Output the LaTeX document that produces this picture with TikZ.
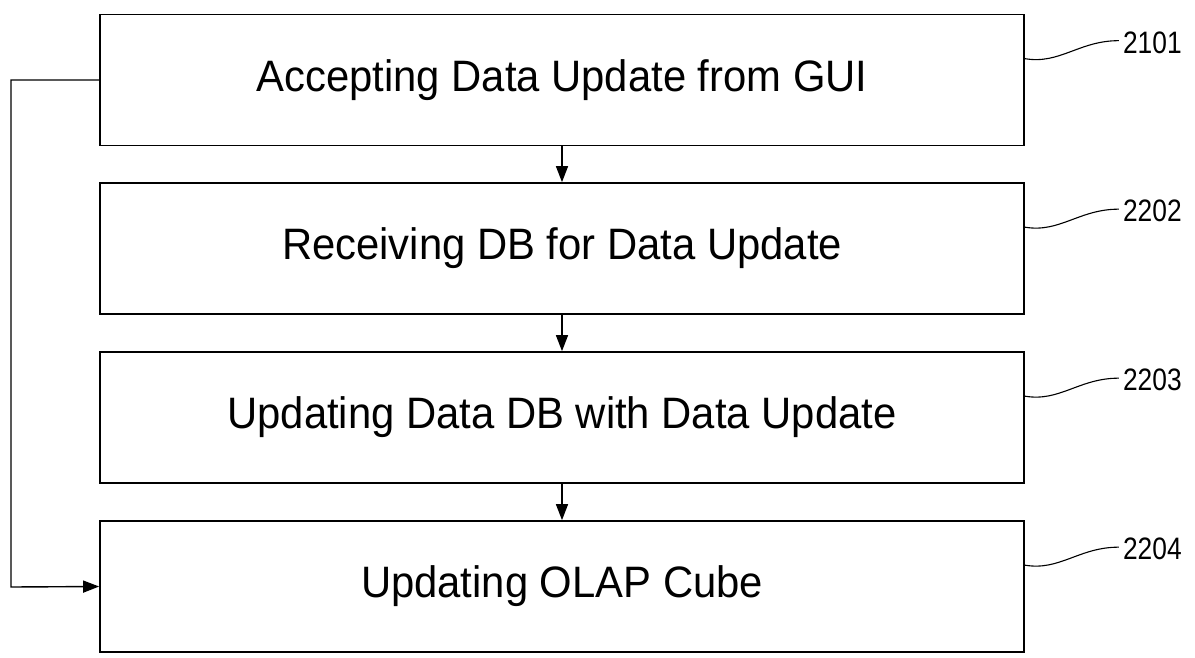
\documentclass[tikz,border=0pt]{standalone}
\usepackage{fontspec}
\usepackage{graphicx}
\setmainfont{Liberation Sans}
\usetikzlibrary{arrows.meta}
\newcommand{\boxtxt}[1]{\scalebox{0.95}[1]{#1}}
\newcommand{\lbltxt}[1]{\scalebox{0.85}[1]{#1}}
\begin{document}
\begin{tikzpicture}[x=1pt,y=-1pt,
  stepbox/.style={draw,line width=1.7pt,minimum width=924pt,minimum height=131pt,inner sep=0pt,font=\fontsize{44}{50}\selectfont},
  flow/.style={line width=1.4pt,-{Triangle[length=16pt,width=12pt]}},
  reflbl/.style={font=\fontsize{31}{34}\selectfont,anchor=west,inner sep=0pt},
  lead/.style={line width=1.1pt}]
\useasboundingbox (0,0) rectangle (1195,657);
\node[stepbox] (b1) at (562,80) {\boxtxt{Accepting Data Update from GUI}};
\node[stepbox] (b2) at (562,248.5) {\boxtxt{Receiving DB for Data Update}};
\node[stepbox] (b3) at (562,417.5) {\boxtxt{Updating Data DB with Data Update}};
\node[stepbox] (b4) at (562,586.5) {\boxtxt{Updating OLAP Cube}};
\draw[flow] (b1.south) -- (b2.north);
\draw[flow] (b2.south) -- (b3.north);
\draw[flow] (b3.south) -- (b4.north);
\coordinate (c1) at (11,80);
\coordinate (c2) at (11,587);
\draw[flow] (b1.west) -- (c1) -- (c2) -- (b4.west);
\foreach \b/\t in {b1/2101,b2/2202,b3/2203,b4/2204}{
  \node[reflbl] (l\t) at ([xshift=98pt,yshift=-29pt]\b.north east) {\lbltxt{\t}};
  \draw[lead] ([yshift=-45pt]\b.north east) .. controls +(35,6) and +(-40,0) .. ([xshift=-4pt,yshift=2pt]l\t.west);
}
\end{tikzpicture}
\end{document}
